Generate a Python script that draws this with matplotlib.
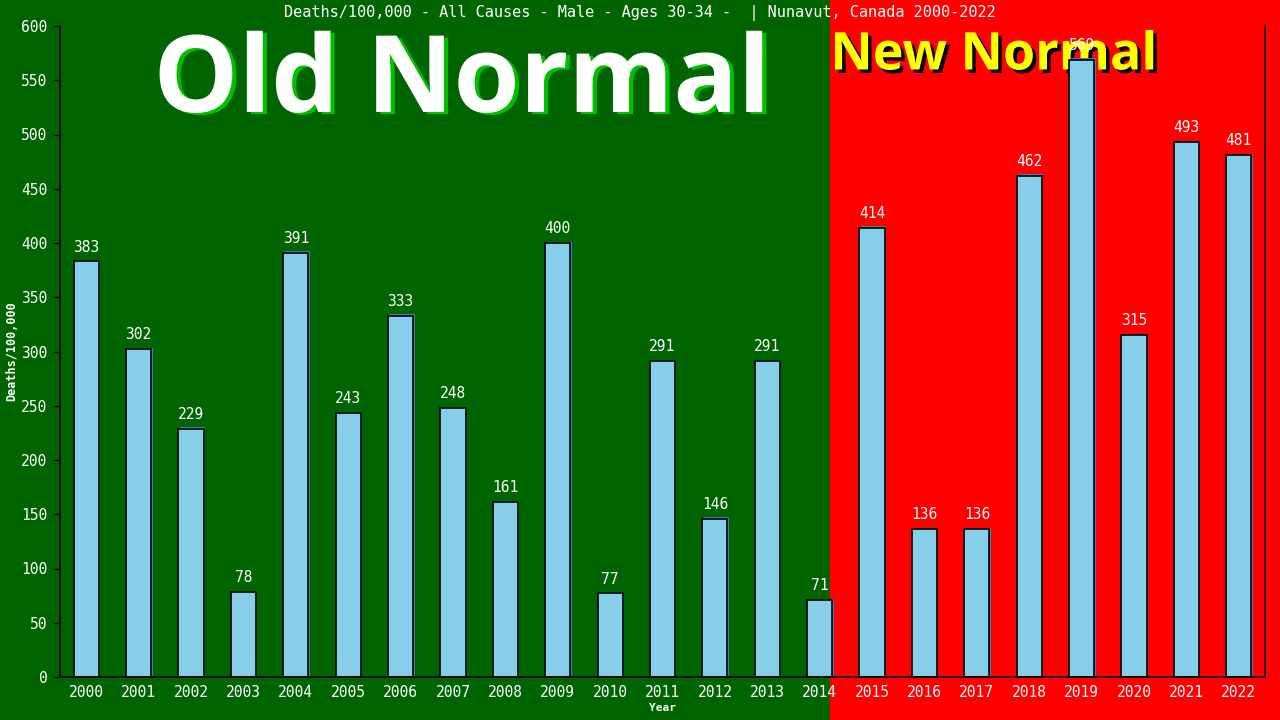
import matplotlib
matplotlib.use("Agg")
import matplotlib.pyplot as plt
import matplotlib.patheffects as pe
from matplotlib.patches import Rectangle

years = [str(y) for y in range(2000, 2023)]
values = [383, 302, 229, 78, 391, 243, 333, 248, 161, 400, 77, 291, 146, 291, 71,
          414, 136, 136, 462, 569, 315, 493, 481]
title = "Deaths/100,000 - All Causes - Male - Ages 30-34 -  | Nunavut, Canada 2000-2022"
ylabel = "Deaths/100,000"
xlabel = "Year"
yticks = list(range(0, 601, 50))

GREEN = "#006400"
RED = "#ff0000"
BAR = "#87ceeb"
MONO = "DejaVu Sans Mono"

fig = plt.figure(figsize=(12.8, 7.2), dpi=100)
fig.patch.set_facecolor(GREEN)
ax = fig.add_axes([60/1280, 1-677/720, (1265-60)/1280, (677-26)/720])
ax.set_facecolor("none")

n = len(years)
x = list(range(n))

# red background for the "new normal" side (extends to figure edges)
ax.add_patch(Rectangle((830/1280, 0), 1-830/1280, 1, transform=fig.transFigure,
                       color=RED, zorder=-5, clip_on=False))

bars = ax.bar(x, values, width=0.48, color=BAR, edgecolor="black", linewidth=1.2, zorder=3)
for b in bars:
    b.set_path_effects([pe.SimplePatchShadow(offset=(1, 1), shadow_rgbFace="#3f7fb0", alpha=1.0),
                        pe.Normal()])

for xi, v in zip(x, values):
    ax.annotate(str(v), (xi, v), xytext=(0, 5), textcoords="offset points",
                ha="center", va="bottom", color="white", fontsize=10.5,
                family=MONO, zorder=5)

ax.set_xlim(-0.5, n - 0.5)
ax.set_ylim(0, 600)
ax.set_yticks(yticks)
ax.set_xticks(x)
ax.set_xticklabels(years)
ax.tick_params(axis="both", colors="black", labelcolor="white", labelsize=10.5)
for lab in ax.get_xticklabels() + ax.get_yticklabels():
    lab.set_family(MONO)
ax.tick_params(axis="x", length=0, pad=6)
ax.tick_params(axis="y", length=5, width=1, pad=4)
ax.spines["top"].set_visible(False)
for s in ["left", "bottom", "right"]:
    ax.spines[s].set_color("black")
    ax.spines[s].set_linewidth(1.2)
    ax.spines[s].set_zorder(4)

ax.set_ylabel(ylabel, color="white", fontsize=8.5, family=MONO, fontweight="bold",
              va="center")
ax.yaxis.set_label_coords((12 - 60) / 1205, 0.5)
ax.set_xlabel(xlabel, color="white", fontsize=8, family=MONO, fontweight="bold", labelpad=2)

fig.text(640/1280, 1-13/720, title, ha="center", va="center", color="white",
         fontsize=11, family=MONO)

ax.text(462/1280, 1-84/720, "Old Normal", ha="center", va="center", color="white",
        fontsize=77, family="Open Sans", fontweight="bold", zorder=1,
        transform=fig.transFigure, clip_on=False,
        path_effects=[pe.withSimplePatchShadow(offset=(3, -1.5), shadow_rgbFace="#00c000", alpha=1.0)])
ax.text(994/1280, 1-56/720, "New Normal", ha="center", va="center", color="#ffff00",
        fontsize=37.5, family="Open Sans", fontweight="bold", zorder=1,
        transform=fig.transFigure, clip_on=False,
        path_effects=[pe.withSimplePatchShadow(offset=(2.5, -2.5), shadow_rgbFace="black", alpha=1.0)])

fig.savefig("out.png", dpi=100, facecolor=fig.get_facecolor())
